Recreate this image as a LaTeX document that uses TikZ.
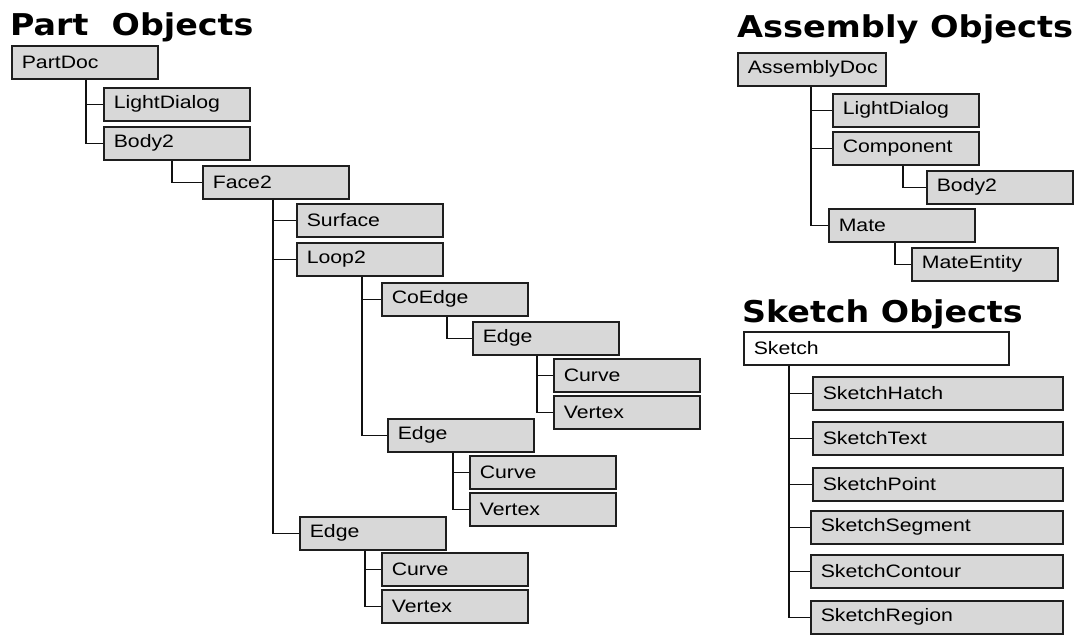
\documentclass[tikz,border=0pt]{standalone}
\usepackage{fontspec}
\usepackage{graphicx}
\usepackage{tikz}
\usetikzlibrary{positioning}
\newfontfamily\boxfont[FakeStretch=1.18]{Liberation Sans}
\newfontfamily\headfont{DejaVu Sans}
\definecolor{boxline}{HTML}{1E1E1E}
\definecolor{wirecol}{HTML}{111111}
\definecolor{boxfill}{HTML}{D8D8D8}
\tikzset{
  objbox/.style={
    rectangle, draw=boxline, line width=1.6pt, fill=boxfill,
    text width=#1, inner xsep=10pt, inner ysep=0pt,
    minimum height=33pt, align=left, anchor=north west,
    font=\boxfont\fontsize{18}{20}\selectfont
  },
  objbox/.default=126pt,
  rootbox/.style={objbox=#1, fill=white},
  rootbox/.default=245pt,
  wire/.style={draw=wirecol, line width=1.5pt},
  heading/.style={
    anchor=base west, inner sep=0pt,
    font=\headfont\bfseries\fontsize{30}{32}\selectfont
  },
}

\begin{document}
\begin{tikzpicture}[x=1pt,y=-1pt]
  \useasboundingbox[fill=white] (0,0) rectangle (1080,638);

  % Part tree
  \node[heading] (partTitle) at (10,35) {\scalebox{1.11}[1]{Part\ \ Objects}};
  \node[objbox] (PartDoc) at (11,45) {PartDoc};
  \node[objbox] (pLight) at (103,87) {LightDialog};
  \node[objbox] (pBody) at (103,126) {Body2};
  \node[objbox] (pFace) at (202,165) {Face2};
  \node[objbox] (pSurf) at (296,203) {Surface};
  \node[objbox] (pLoop) at (296,242) {Loop2};
  \node[objbox] (pCoEdge) at (381,282) {CoEdge};
  \node[objbox] (pEdgeA) at (472,321) {Edge};
  \node[objbox] (pCurveA) at (553,358) {Curve};
  \node[objbox] (pVertexA) at (553,395) {Vertex};
  \node[objbox] (pEdgeB) at (387,418) {Edge};
  \node[objbox] (pCurveB) at (469,455) {Curve};
  \node[objbox] (pVertexB) at (469,492) {Vertex};
  \node[objbox] (pEdgeC) at (299,516) {Edge};
  \node[objbox] (pCurveC) at (381,552) {Curve};
  \node[objbox] (pVertexC) at (381,589) {Vertex};

  \foreach \kid in {pLight,pBody}
    \draw[wire] ([xshift=75pt]PartDoc.south west) |- (\kid.west);
  \draw[wire] ([xshift=69pt]pBody.south west) |- (pFace.west);
  \foreach \kid in {pSurf,pLoop,pEdgeC}
    \draw[wire] ([xshift=71pt]pFace.south west) |- (\kid.west);
  \foreach \kid in {pCoEdge,pEdgeB}
    \draw[wire] ([xshift=66pt]pLoop.south west) |- (\kid.west);
  \draw[wire] ([xshift=66pt]pCoEdge.south west) |- (pEdgeA.west);
  \foreach \kid in {pCurveA,pVertexA}
    \draw[wire] ([xshift=65pt]pEdgeA.south west) |- (\kid.west);
  \foreach \kid in {pCurveB,pVertexB}
    \draw[wire] ([xshift=66pt]pEdgeB.south west) |- (\kid.west);
  \foreach \kid in {pCurveC,pVertexC}
    \draw[wire] ([xshift=66pt]pEdgeC.south west) |- (\kid.west);

  % Assembly tree
  \node[heading] (asmTitle) at (737,37) {\scalebox{1.12}[1]{Assembly Objects}};
  \node[objbox=128pt] (aDoc) at (737,52) {AssemblyDoc};
  \node[objbox] (aLight) at (832,93) {LightDialog};
  \node[objbox] (aComp) at (832,131) {Component};
  \node[objbox] (aBody) at (926,170) {Body2};
  \node[objbox] (aMate) at (828,208) {Mate};
  \node[objbox] (aEntity) at (911,247) {MateEntity};

  \foreach \kid in {aLight,aComp,aMate}
    \draw[wire] ([xshift=74pt]aDoc.south west) |- (\kid.west);
  \draw[wire] ([xshift=71pt]aComp.south west) |- (aBody.west);
  \draw[wire] ([xshift=67pt]aMate.south west) |- (aEntity.west);

  % Sketch tree
  \node[heading] (skTitle) at (742,322) {\scalebox{1.11}[1]{Sketch Objects}};
  \node[rootbox] (sRoot) at (743,331) {Sketch};
  \node[objbox=230pt] (sHatch) at (812,376) {SketchHatch};
  \node[objbox=230pt] (sText) at (812,421) {SketchText};
  \node[objbox=230pt] (sPoint) at (812,467) {SketchPoint};
  \node[objbox=232pt] (sSegment) at (810,510) {SketchSegment};
  \node[objbox=232pt] (sContour) at (810,554) {SketchContour};
  \node[objbox=232pt] (sRegion) at (810,600) {SketchRegion};

  \foreach \kid in {sHatch,sText,sPoint,sSegment,sContour,sRegion}
    \draw[wire] ([xshift=46pt]sRoot.south west) |- (\kid.west);
\end{tikzpicture}
\end{document}
